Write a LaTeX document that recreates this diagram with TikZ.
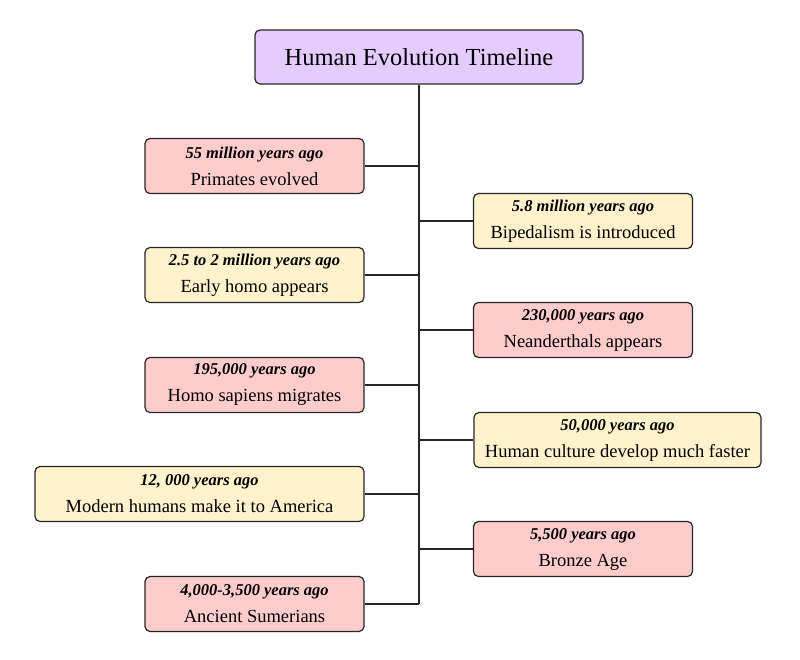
\documentclass[tikz,border=0pt]{standalone}
\usepackage{fontspec}
\setmainfont{Liberation Serif}
\usepackage{tikz}
\definecolor{lilac}{HTML}{E5CCFF}
\definecolor{rose}{HTML}{FFCCCC}
\definecolor{cream}{HTML}{FFF2CC}
\newcommand{\era}[2]{{\bfseries\itshape\fontsize{16.5}{19}\selectfont #1}\\[6pt]#2}

\begin{document}
\begin{tikzpicture}[x=1pt,y=-1pt,
    box/.style={draw=black!85,line width=1.2pt,rounded corners=5pt,minimum width=219pt,minimum height=55pt,align=center,inner sep=2pt,font=\fontsize{18.5}{21}\selectfont},
    pinkbox/.style={box,fill=rose},
    creambox/.style={box,fill=cream},
    link/.style={draw=black!85,line width=1.2pt}]
      \useasboundingbox (0,0) rectangle (800,659);
      \node [box,fill=lilac,minimum width=328pt,minimum height=54pt,font=\fontsize{24.5}{28}\selectfont] (t) at (419,57) {Human Evolution Timeline};
      \node [pinkbox] (1) at (254.5,166) {\era{55 million years ago}{Primates evolved}};
      \node [creambox] (2) at (583,221) {\era{5.8 million years ago}{Bipedalism is introduced}};
      \node [creambox] (3) at (254.5,275) {\era{2.5 to 2 million years ago}{Early homo appears}};
      \node [pinkbox] (4) at (583,330) {\era{230,000 years ago}{Neanderthals appears}};
      \node [pinkbox] (5) at (254.5,385) {\era{195,000 years ago}{Homo sapiens migrates}};
      \node [creambox,minimum width=287pt] (6) at (617.5,440) {\era{50,000 years ago}{Human culture develop much faster}};
      \node [creambox,minimum width=329pt] (7) at (199.5,494) {\era{12, 000 years ago}{Modern humans make it to America}};
      \node [pinkbox] (8) at (583,549) {\era{5,500 years ago}{Bronze Age}};
      \node [pinkbox] (9) at (254.5,604) {\era{4,000-3,500 years ago}{Ancient Sumerians}};

      \coordinate (end) at (9.east -| t.south);
      \draw [link] (t.south) -- (end);
      \foreach \n in {1,3,5,7} \draw [link] (\n.east) -- (\n.east -| t.south);
      \draw [link] (9.east) -- (end);
      \foreach \n in {2,4,6,8} \draw [link] (\n.west) -- (\n.west -| t.south);
    \end{tikzpicture}
\end{document}
